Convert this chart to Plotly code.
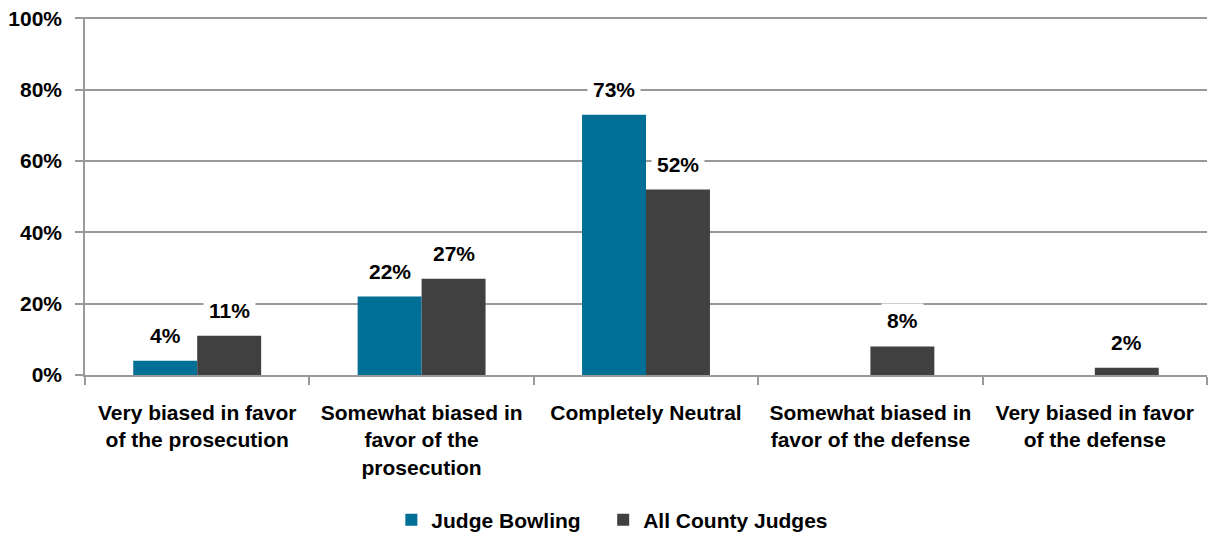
import plotly.graph_objects as go

categories = [
    "Very biased in favor<br>of the prosecution",
    "Somewhat biased in<br>favor of the<br>prosecution",
    "Completely Neutral",
    "Somewhat biased in<br>favor of the defense",
    "Very biased in favor<br>of the defense",
]
judge_bowling = [4, 22, 73, 0, 0]
all_county = [11, 27, 52, 8, 2]
y_ticks = [0, 20, 40, 60, 80, 100]
y_tick_labels = ["0%", "20%", "40%", "60%", "80%", "100%"]

FONT = "Liberation Sans Narrow, Arial Narrow, Liberation Sans, Arial, sans-serif"
BLUE = "#006F96"
GRAY = "#404040"

fig = go.Figure()
fig.add_trace(go.Bar(x=categories, y=judge_bowling,
                     name="<b>Judge Bowling</b>&nbsp;&nbsp;&nbsp;",
                     marker=dict(color=BLUE, line=dict(width=0))))
fig.add_trace(go.Bar(x=categories, y=all_county, name="<b>All County Judges</b>",
                     marker=dict(color=GRAY, line=dict(width=0))))

# labels with white boxes so the gridlines break behind them
for vals, shift in [(judge_bowling, -32), (all_county, 32)]:
    for cat, v in zip(categories, vals):
        if v == 0:
            continue
        fig.add_annotation(x=cat, y=v, text=f"<b>{v}%</b>", showarrow=False,
                           xshift=shift, yshift=8, yanchor="bottom",
                           bgcolor="white", borderpad=5,
                           font=dict(family=FONT, size=21, color="black"))

fig.update_layout(
    width=1211, height=544,
    margin=dict(l=85, r=4, t=17, b=167),
    paper_bgcolor="white", plot_bgcolor="white",
    barmode="group", bargap=0.43, bargroupgap=0,
    font=dict(family=FONT, size=21, color="black"),
    showlegend=True,
    legend=dict(orientation="h", x=0.47, xanchor="center", y=-0.405, yanchor="middle",
                font=dict(family=FONT, size=21), traceorder="normal"),
)
fig.update_xaxes(showline=True, linecolor="#999999", linewidth=1.5,
                 ticks="outside", tickson="boundaries", ticklen=8,
                 tickcolor="#999999", tickwidth=1.5, tickangle=0, automargin=False,
                 ticklabelstandoff=18,
                 tickfont=dict(family=FONT, size=21),
                 tickvals=categories,
                 ticktext=[f"<b>{c}</b>" for c in categories])
# tiny headroom so the 100% gridline is still drawn
fig.update_yaxes(range=[0, 100.4], tickvals=y_ticks,
                 ticktext=[f"<b>{t}</b>" for t in y_tick_labels],
                 showgrid=True, gridcolor="#999999", gridwidth=1.5,
                 showline=True, linecolor="#999999", linewidth=1.5,
                 ticks="outside", ticklen=8, tickcolor="#999999", tickwidth=1.5,
                 ticklabelstandoff=9, ticklabeloverflow="allow",
                 zeroline=False, automargin=False, tickfont=dict(family=FONT, size=21))

# drop the default 8px body margin so the figure sits at the page corner
fig.write_html("out.html", config={"displayModeBar": False},
               post_script="document.body.style.margin='0';")
